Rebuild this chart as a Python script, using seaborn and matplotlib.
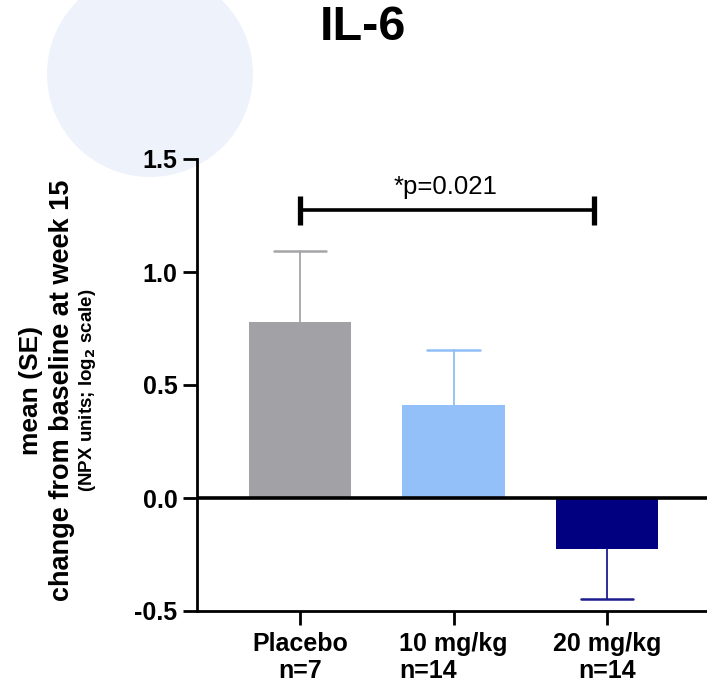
import matplotlib
matplotlib.use("Agg")
import matplotlib.pyplot as plt
from matplotlib.patches import Ellipse
import seaborn as sns

# Data
groups = ["Placebo", "10 mg/kg", "20 mg/kg"]
group_n = ["n=7", "n=14", "n=14"]
means = [0.779, 0.413, -0.227]
se = [0.314, 0.244, 0.221]
bar_colors = ["#A2A1A6", "#93C0F8", "#000080"]
err_colors = ["#A5A5A8", "#8FBEF6", "#1C1C90"]
y_ticks = [-0.5, 0.0, 0.5, 1.0, 1.5]
p_text = "*p=0.021"

sns.set_style("ticks")
plt.rcParams["font.family"] = ["Liberation Sans", "DejaVu Sans"]
plt.rcParams["text.color"] = "black"
plt.rcParams["xtick.color"] = "black"
plt.rcParams["ytick.color"] = "black"

fig = plt.figure(figsize=(7.07, 6.86), dpi=100)

# pale decorative circle behind the title area
circ = Ellipse((150 / 707, 1 - 74 / 686), 206 / 707, 206 / 686,
               transform=fig.transFigure, facecolor="#EEF2FB", edgecolor="none", zorder=0)
fig.patches.append(circ)

ax = fig.add_axes([197 / 707, 75 / 686, 510 / 707, 452 / 686])
ax.set_zorder(2)
ax.patch.set_alpha(0)

sns.barplot(x=groups, y=means, hue=groups, palette=bar_colors, width=0.67,
            legend=False, ax=ax, saturation=1, edgecolor="none")

# one-sided SE bars (away from zero), cap only at the far end
cap = 0.17
for i, (m, s, c) in enumerate(zip(means, se, err_colors)):
    end = m + s if m >= 0 else m - s
    ax.plot([i, i], [m, end], color=c, lw=1.3, zorder=3)
    ax.plot([i - cap, i + cap], [end, end], color=c, lw=1.8, zorder=3)

ax.axhline(0, color="black", lw=2.6, zorder=4)

# significance bracket placebo vs 20 mg/kg
ax.plot([0, 1.915], [1.273, 1.273], color="black", lw=2.6, solid_capstyle="butt")
ax.plot([0, 0], [1.206, 1.336], color="black", lw=3.8, solid_capstyle="butt")
ax.plot([1.915, 1.915], [1.206, 1.336], color="black", lw=3.8, solid_capstyle="butt")
ax.text(0.95, 1.344, p_text, ha="center", va="baseline", fontsize=18.5)

ax.set_ylim(-0.5, 1.5)
ax.set_xlim(-0.671, 2.651)
ax.set_yticks(y_ticks)
ax.set_yticklabels([f"{t:.1f}" for t in y_ticks])
ax.set_xticks(range(len(groups)))
ax.set_xticklabels([f"{g}\n{n}" for g, n in zip(groups, group_n)])
ax.get_xticklabels()[1].set_multialignment("left")

for lab in ax.get_xticklabels() + ax.get_yticklabels():
    lab.set_fontweight("bold")
    lab.set_fontsize(18)
    lab.set_color("black")
for lab in ax.get_xticklabels():
    lab.set_linespacing(1.15)

ax.tick_params(axis="both", length=10, width=2, color="black", pad=4)
ax.tick_params(axis="x", pad=5)
sns.despine(ax=ax, top=True, right=True)
for sp in ["left", "bottom"]:
    ax.spines[sp].set_linewidth(2)
    ax.spines[sp].set_color("black")
ax.set_xlabel("")
ax.set_ylabel("")

# stacked y-axis title
yc = 1 - 390 / 686
fig.text(31 / 707, yc, "mean (SE)", rotation=90, ha="center", va="center",
         fontsize=19, fontweight="bold")
fig.text(62 / 707, yc, "change from baseline at week 15", rotation=90, ha="center",
         va="center", fontsize=19.5, fontweight="bold")
fig.text(88 / 707, yc, "(NPX units; log$_\\mathbf{2}$ scale)", rotation=90, ha="center",
         va="center", fontsize=13.5, fontweight="bold")

fig.text(363 / 707, 1 - 28 / 686, "IL-6", ha="center", va="center",
         fontsize=35, fontweight="bold")

plt.savefig("out.png", dpi=100)
plt.close()
